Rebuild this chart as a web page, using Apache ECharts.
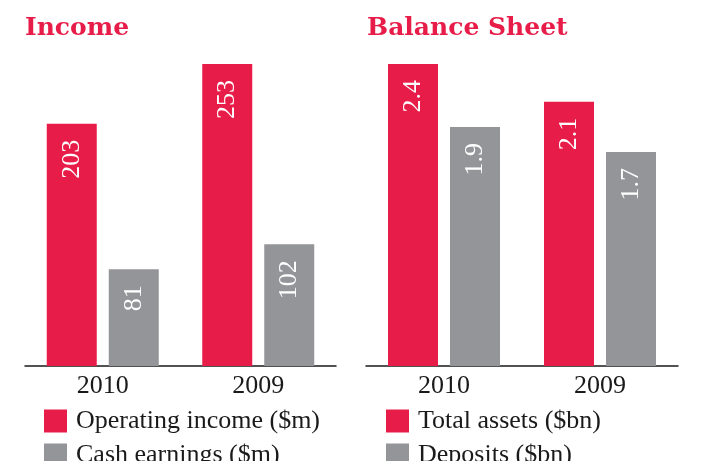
<!DOCTYPE html>
<html>
<head>
<meta charset="utf-8">
<script src="https://cdn.jsdelivr.net/npm/echarts@6/dist/echarts.min.js"></script>
<style>
  html, body { margin: 0; padding: 0; background: #fff; }
</style>
</head>
<body>
<div id="main" style="width:704px;height:461px;"></div>
<script type="text/javascript">
    // data
    var years = ['2010', '2009'];
    var operatingIncome = [203, 253];
    var cashEarnings = [81, 102];
    var totalAssets = [2.4, 2.1];
    var deposits = [1.9, 1.7];

    var RED = '#e81c48';
    var GREY = '#949599';

    var myChart = echarts.init(document.getElementById('main'));

    var barLabel = {
        show: true,
        position: 'insideTop',
        rotate: 90,
        align: 'right',
        verticalAlign: 'middle',
        distance: 16,
        color: '#fff',
        fontFamily: 'Liberation Serif',
        fontSize: 26
    };

    function xAx(idx) {
        return {
            type: 'category',
            gridIndex: idx,
            data: years,
            axisTick: { show: false },
            axisLine: { lineStyle: { color: '#1a1a1a', width: 1.5 } },
            axisLabel: { color: '#1a1a1a', fontFamily: 'Liberation Serif', fontSize: 26, margin: 7 }
        };
    }

    function bar(name, data, color, idx) {
        return {
            name: name,
            type: 'bar',
            xAxisIndex: idx,
            yAxisIndex: idx,
            data: data,
            barWidth: 50,
            barGap: '24%',
            itemStyle: { color: color },
            label: barLabel
        };
    }

    // one legend per entry so nothing wraps at the bottom edge
    function leg(name, left, top) {
        return {
            data: [name],
            left: left, top: top,
            itemWidth: 23, itemHeight: 23,
            icon: 'rect',
            textStyle: { color: '#1a1a1a', fontFamily: 'Liberation Serif', fontSize: 26, lineHeight: 23, padding: [0, 0, 0, 4] }
        };
    }

    var option = {
        animation: false,
        title: [
            { text: 'Income', left: 20, top: 11, textStyle: { color: RED, fontFamily: 'DejaVu Serif', fontWeight: 'bold', fontSize: 25 } },
            { text: 'Balance Sheet', left: 362, top: 11, textStyle: { color: RED, fontFamily: 'DejaVu Serif', fontWeight: 'bold', fontSize: 25 } }
        ],
        legend: [
            leg('Operating income ($m)', 39, 403),
            leg('Cash earnings ($m)', 39, 437),
            leg('Total assets ($bn)', 381, 403),
            leg('Deposits ($bn)', 381, 437)
        ],
        grid: [
            { left: 25, top: 64, width: 311, height: 302 },
            { left: 366, top: 64, width: 312, height: 302 }
        ],
        xAxis: [xAx(0), xAx(1)],
        yAxis: [
            { type: 'value', gridIndex: 0, min: 0, max: 253, show: false },
            { type: 'value', gridIndex: 1, min: 0, max: 2.4, show: false }
        ],
        series: [
            bar('Operating income ($m)', operatingIncome, RED, 0),
            bar('Cash earnings ($m)', cashEarnings, GREY, 0),
            bar('Total assets ($bn)', totalAssets, RED, 1),
            bar('Deposits ($bn)', deposits, GREY, 1)
        ]
    };
    myChart.setOption(option);
</script>
</body>
</html>
